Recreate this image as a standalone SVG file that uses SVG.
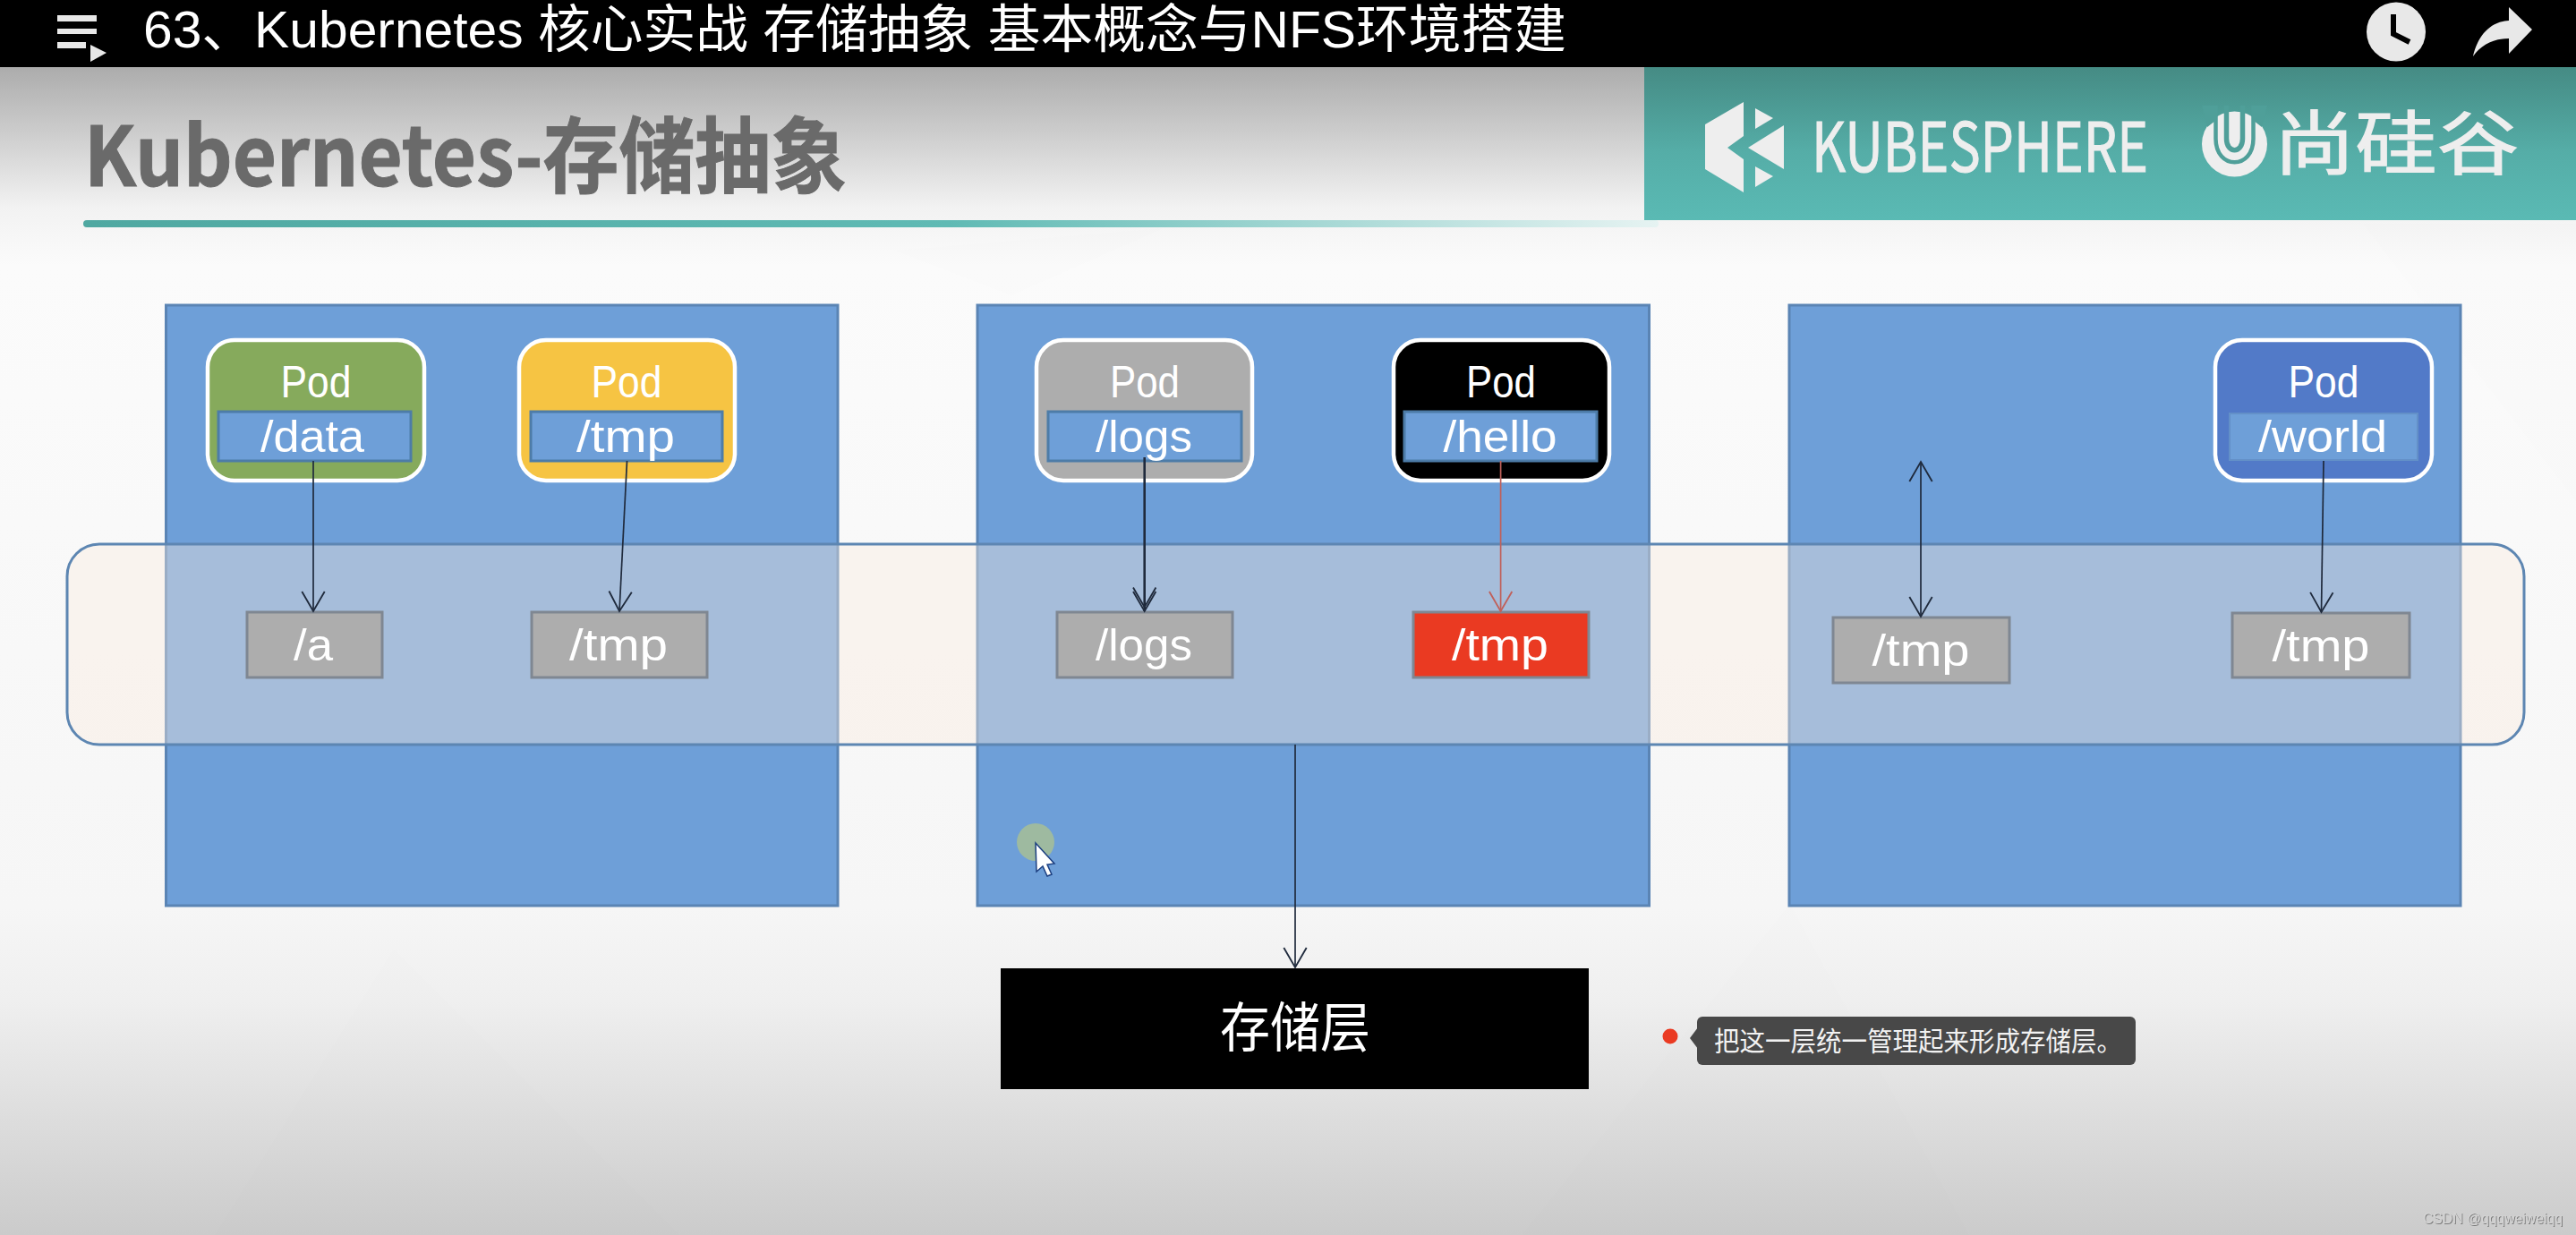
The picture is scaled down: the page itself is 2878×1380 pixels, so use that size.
<svg xmlns="http://www.w3.org/2000/svg" width="2878" height="1380" viewBox="0 0 2878 1380">
<defs>
<linearGradient id="bg" x1="0" y1="0" x2="0" y2="1"><stop offset="0" stop-color="#acacac"/><stop offset=".05" stop-color="#c9c9c9"/><stop offset=".12" stop-color="#f2f2f2"/><stop offset=".17" stop-color="#fbfbfb"/><stop offset=".72" stop-color="#f6f6f6"/><stop offset=".8" stop-color="#efefef"/><stop offset="1" stop-color="#cbcbcb"/></linearGradient>
<linearGradient id="teal" x1="0" y1="0" x2="0" y2="1"><stop offset="0" stop-color="#458b84"/><stop offset=".55" stop-color="#55ada7"/><stop offset="1" stop-color="#5abab4"/></linearGradient>
<linearGradient id="rule" x1="0" y1="0" x2="1" y2="0"><stop offset="0" stop-color="#4fa8a1"/><stop offset=".55" stop-color="#5fbab4"/><stop offset="1" stop-color="#e6f3f2"/></linearGradient>
<marker id="a" markerUnits="userSpaceOnUse" markerWidth="30" markerHeight="30" viewBox="-24 -12 26 24" refX="0" refY="0" orient="auto-start-reverse"><path d="M-19 -11L0 0L-19 11" fill="none" stroke="#1f2a3c" stroke-width="1.6"/></marker>
<marker id="d" markerUnits="userSpaceOnUse" markerWidth="30" markerHeight="30" viewBox="-24 -12 26 24" refX="0" refY="0" orient="auto"><path d="M-19 -11L0 0L-19 11M-23 -11L-4 0L-23 11" fill="none" stroke="#1f2a3c" stroke-width="1.6"/></marker>
<marker id="r" markerUnits="userSpaceOnUse" markerWidth="30" markerHeight="30" viewBox="-24 -12 26 24" refX="0" refY="0" orient="auto"><path d="M-19 -11L0 0L-19 11" fill="none" stroke="#c0605a" stroke-width="1.6"/></marker>
<filter id="emboss" x="-5%" y="-20%" width="110%" height="150%"><feDropShadow dx="1" dy="1" stdDeviation=".4" flood-color="#666" flood-opacity=".8"/></filter>
</defs>
<style>
text{font-family:"Liberation Sans","Noto Sans CJK SC",sans-serif;fill:#fff;text-anchor:middle}
.node{fill:#6e9fd8;stroke:#5a84b4;stroke-width:3}
.band{fill:#faebdf;fill-opacity:.4;stroke:#5d86b2;stroke-width:3}
.pod{stroke:#fff;stroke-width:4.5}
.vol{fill:#6e9fd8;stroke:#4d7ca8;stroke-width:3}
.disk{fill:#adadad;stroke:#7f8792;stroke-width:3}
.t{font-size:50px}
.c{fill:none;stroke:#1f2a3c;stroke-width:1.7;marker-end:url(#a)}
.ic{fill:#e8e8e8}
.cjk{font-family:"Noto Sans CJK SC","Noto Sans",sans-serif}
.logo{fill:#eeeeee}
</style>
<rect id="background" y="75" width="2878" height="1305" fill="url(#bg)"/>
<g id="faint" fill="#888" fill-opacity=".012">
<polygon points="1000,280 1300,255 1130,330"/>
<polygon points="2000,1010 1700,1380 2200,1380"/>
<polygon points="440,1060 760,1380 240,1380"/>
<polygon points="2640,250 2878,250 2878,560"/>
</g>
<rect id="topbar" width="2878" height="75" fill="#000"/>
<g id="playlist-icon" class="ic"><rect x="64" y="17" width="44" height="7"/><rect x="64" y="32" width="44" height="6"/><rect x="64" y="47" width="32" height="7"/><polygon points="101,50 119,59 101,69"/></g>
<text id="video-title" x="160" y="53" font-size="58" style="text-anchor:start" textLength="1590" lengthAdjust="spacingAndGlyphs">63、Kubernetes 核心实战 存储抽象 基本概念与NFS环境搭建</text>
<g id="clock-icon"><circle cx="2677" cy="35.5" r="33" fill="#e8e8e8"/><path d="M2674 16V38L2692 47" fill="none" stroke="#000" stroke-width="6"/></g>
<path id="share-icon" class="ic" d="M2829 33L2803 8V23C2782 24 2768 40 2763 63C2772 50 2785 43 2803 43V60Z"/>

<rect id="title-rule" x="93" y="246" width="1760" height="8" rx="4" fill="url(#rule)"/>
<text id="slide-title" class="cjk" x="94" y="208" font-size="92" font-weight="700" style="text-anchor:start;fill:#6a6a6a;stroke:#6a6a6a;stroke-width:1" textLength="852" lengthAdjust="spacingAndGlyphs">Kubernetes-存储抽象</text>
<g id="banner">
<rect x="1837" y="75" width="1041" height="171" fill="url(#teal)"/>
<g class="logo">
<polygon points="1948,114 1905,139 1905,189 1948,215 1948,178 1930,165 1948,152"/>
<polygon points="1961,121 1981,132 1961,144"/>
<polygon points="1993,140 1993,189 1953,165"/>
<polygon points="1961,186 1981,197 1961,209"/>
</g>
<text class="cjk" x="2212" y="192" font-size="76" style="fill:#eeeeee;stroke:#eeeeee;stroke-width:1" textLength="376" lengthAdjust="spacingAndGlyphs">KUBESPHERE</text>
<g>
<circle class="logo" cx="2496.5" cy="161" r="36.5"/>
<path d="M2475.5 118V155C2475.5 190 2517.5 190 2517.5 155V118" fill="none" stroke="#4f9f99" stroke-width="4.5"/>
<path d="M2487.5 118V155C2487.5 172 2505.5 172 2505.5 155V118" fill="none" stroke="#4f9f99" stroke-width="5.5"/>
<path d="M2460 118H2475V135L2466 142Z M2533 118H2518V135L2527 142Z" fill="#4f9f99"/>
</g>
<text class="cjk" x="2677" y="189" font-size="78" style="fill:#eeeeee;stroke:#eeeeee;stroke-width:1.2" textLength="274" lengthAdjust="spacingAndGlyphs">尚硅谷</text>
</g>

<rect id="node-1" class="node" x="185.5" y="341" width="750.5" height="671"/>
<rect id="node-2" class="node" x="1092" y="341" width="750.5" height="671"/>
<rect id="node-3" class="node" x="1999" y="341" width="750" height="671"/>
<rect id="storage-band" class="band" x="75" y="608" width="2745" height="224" rx="36"/>

<g id="pod-data"><rect class="pod" x="232" y="380" width="242" height="157" rx="30" fill="#86aa5c"/><text class="t" x="353" y="444" textLength="79" lengthAdjust="spacingAndGlyphs">Pod</text><rect class="vol" x="244" y="460" width="215" height="55"/><text class="t" x="349" y="505" textLength="116" lengthAdjust="spacingAndGlyphs">/data</text></g>
<g id="pod-tmp"><rect class="pod" x="580" y="380" width="241" height="157" rx="30" fill="#f6c443"/><text class="t" x="700" y="444" textLength="79" lengthAdjust="spacingAndGlyphs">Pod</text><rect class="vol" x="593" y="460" width="214" height="55"/><text class="t" x="699" y="505" textLength="110" lengthAdjust="spacingAndGlyphs">/tmp</text></g>
<g id="pod-logs"><rect class="pod" x="1158" y="380" width="241" height="157" rx="30" fill="#adadad"/><text class="t" x="1279" y="444" textLength="78" lengthAdjust="spacingAndGlyphs">Pod</text><rect class="vol" x="1171" y="460" width="216" height="55"/><text class="t" x="1278" y="505" textLength="108" lengthAdjust="spacingAndGlyphs">/logs</text></g>
<g id="pod-hello"><rect class="pod" x="1557" y="380" width="241" height="157" rx="30" fill="#000"/><text class="t" x="1677" y="444" textLength="78" lengthAdjust="spacingAndGlyphs">Pod</text><rect class="vol" x="1569" y="460" width="215" height="55"/><text class="t" x="1676" y="505" textLength="127" lengthAdjust="spacingAndGlyphs">/hello</text></g>
<g id="pod-world"><rect class="pod" x="2475" y="380" width="242" height="157" rx="30" fill="#527ac8"/><text class="t" x="2596" y="444" textLength="79" lengthAdjust="spacingAndGlyphs">Pod</text><rect x="2491" y="462" width="210" height="52" fill="#6e9fd8" stroke="#6390c8" stroke-width="2"/><text class="t" x="2595" y="505" textLength="144" lengthAdjust="spacingAndGlyphs">/world</text></g>

<g id="disk-a"><rect class="disk" x="276" y="684" width="151" height="73"/><text class="t" x="350" y="738" textLength="44" lengthAdjust="spacingAndGlyphs">/a</text></g>
<g id="disk-tmp-1"><rect class="disk" x="594" y="684" width="196" height="73"/><text class="t" x="691" y="738" textLength="110" lengthAdjust="spacingAndGlyphs">/tmp</text></g>
<g id="disk-logs"><rect class="disk" x="1181" y="684" width="196" height="73"/><text class="t" x="1278" y="738" textLength="108" lengthAdjust="spacingAndGlyphs">/logs</text></g>
<g id="disk-tmp-2"><rect class="disk" x="1579" y="684" width="196" height="73" style="fill:#ea3a22"/><text class="t" x="1676" y="738" textLength="108" lengthAdjust="spacingAndGlyphs">/tmp</text></g>
<g id="disk-tmp-3"><rect class="disk" x="2048" y="690" width="197" height="73"/><text class="t" x="2146" y="744" textLength="109" lengthAdjust="spacingAndGlyphs">/tmp</text></g>
<g id="disk-tmp-4"><rect class="disk" x="2494" y="685" width="198" height="72"/><text class="t" x="2593" y="739" textLength="109" lengthAdjust="spacingAndGlyphs">/tmp</text></g>

<g id="storage-layer"><rect x="1118" y="1082" width="657" height="135" fill="#000"/><text class="cjk" x="1447" y="1170" font-size="60" textLength="168" lengthAdjust="spacingAndGlyphs">存储层</text></g>

<g id="connectors">
<path class="c" d="M350 515V683"/>
<path class="c" d="M700.5 515L692 683"/>
<path class="c" d="M1278.7 511V683" style="stroke-width:2.6;marker-end:url(#d)"/>
<path class="c" d="M1676.6 515V683" style="stroke:#c0605a;marker-end:url(#r)"/>
<path class="c" d="M2146 516V689" style="marker-start:url(#a)"/>
<path class="c" d="M2596 515L2593.5 684"/>
<path class="c" d="M1447 832V1081"/>
</g>

<g id="cursor"><circle cx="1157" cy="941" r="21" fill="#a3bd9a" fill-opacity=".9"/><polygon points="1157,942 1178,965 1170,966 1175,977 1170,979 1165,968 1158,974" fill="#fff" stroke="#1c3f80" stroke-width="1.5"/></g>

<g id="tooltip">
<circle cx="1866" cy="1158" r="8.5" fill="#ea3a22"/>
<polygon points="1888,1160 1897,1148 1897,1172" fill="#484848"/>
<rect x="1896" y="1136" width="490" height="54" rx="6" fill="#484848"/>
<text class="cjk" x="1915" y="1174" font-size="30" style="text-anchor:start;fill:#f2f2f2" textLength="456" lengthAdjust="spacingAndGlyphs">把这一层统一管理起来形成存储层。</text>
</g>
<text id="watermark" x="2785" y="1367" font-size="17" style="fill:#d4d4d4" filter="url(#emboss)" textLength="156" lengthAdjust="spacingAndGlyphs">CSDN @qqqweiweiqq</text>
</svg>
